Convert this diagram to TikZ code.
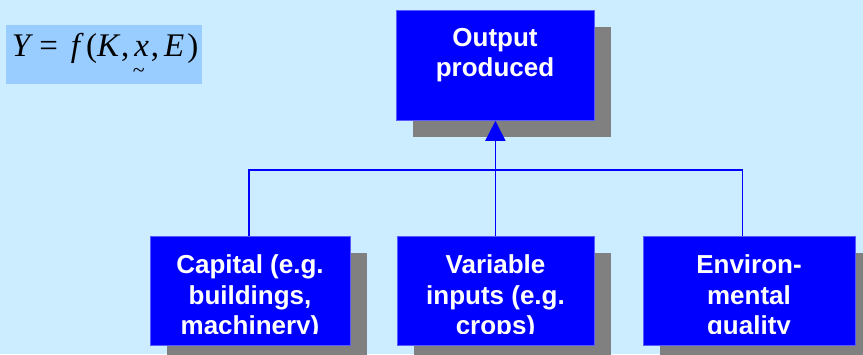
\documentclass[tikz,border=0pt]{standalone}
\usepackage{fontspec}
\setmainfont{Liberation Sans}
\newfontfamily\tmsfont{Liberation Serif}
\usetikzlibrary{arrows.meta,shadows}
\definecolor{bgblue}{RGB}{204,236,255}
\definecolor{formblue}{RGB}{153,204,255}
\definecolor{boxblue}{RGB}{0,0,255}
\definecolor{boxedge}{RGB}{90,90,255}
\definecolor{shadowgray}{RGB}{128,128,128}
\tikzset{
  boxnode/.style={draw=boxedge, line width=0.8pt, fill=boxblue, inner sep=0pt, anchor=north west,
    drop shadow={shadow xshift=16.5pt, shadow yshift=-16.5pt, fill=shadowgray, opacity=1}},
  lbl/.style={text=white, font=\fontsize{26}{30.5}\selectfont\bfseries, align=center, inner sep=0pt, anchor=north},
  conn/.style={draw=boxblue, line width=1.7pt},
}
\begin{document}
\begin{tikzpicture}[x=1pt,y=-1pt]
\fill[bgblue] (0,0) rectangle (863,354);
\useasboundingbox (0,0) rectangle (863,354);
% formula
\node[fill=formblue, minimum width=196pt, minimum height=59pt, inner sep=0pt, anchor=north west] (formbox) at (6,25) {};
\node[anchor=base west, inner sep=0pt, font=\tmsfont\fontsize{33}{36}\selectfont] (formula) at (11.7,56.7)
  {\itshape Y\upshape\kern9pt=\kern13pt\itshape f\upshape\kern6pt(\itshape K\upshape\kern2pt,\kern5pt\rlap{\kern-1.5pt\raisebox{-20.5pt}{\fontsize{22}{22}\selectfont\textasciitilde}}\itshape x\upshape\kern2pt,\kern5pt\itshape E\upshape\kern3pt)};
% boxes
\node[boxnode, minimum width=198pt, minimum height=110pt] (out) at (396,10) {};
\node[boxnode, minimum width=200pt, minimum height=109pt] (cap) at (150,236) {};
\node[boxnode, minimum width=197pt, minimum height=109pt] (var) at (397,236) {};
\node[boxnode, minimum width=212pt, minimum height=109pt] (env) at (643,236) {};
% labels
\node[lbl] (outt) at (495,28) {Output\\produced};
\begin{scope}
\clip (0,0) rectangle (863,333.5);
\node[lbl] (capt) at (250,254.5) {Capital (e.g.\\buildings,\\machinery)};
\node[lbl] (vart) at (495.5,254.5) {Variable\\inputs (e.g.\\crops)};
\node[lbl] (envt) at (749,254.5) {Environ-\\mental\\quality};
\end{scope}
% connectors
\coordinate (bus) at (0,170);
\coordinate (envtop) at (742.5,236);
\draw[conn] (cap.north -| 249,0) -- (bus -| 249,0) -- (bus -| envtop) -- (envtop);
\draw[conn, -{Triangle[width=20pt,length=20pt]}] (var.north -| out.south) -- (out.south);
\end{tikzpicture}
\end{document}
